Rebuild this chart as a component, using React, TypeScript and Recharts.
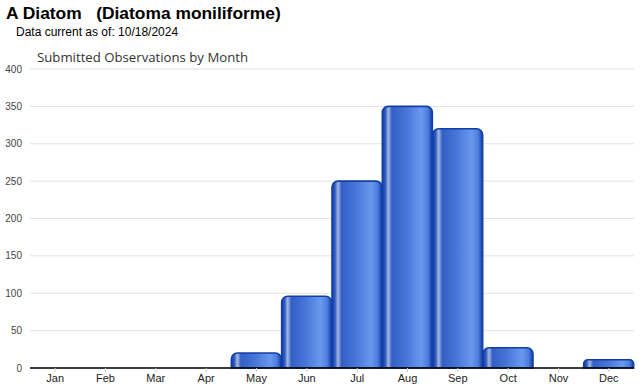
import { BarChart, Bar, XAxis, YAxis, CartesianGrid } from "recharts";

const months = ["Jan", "Feb", "Mar", "Apr", "May", "Jun", "Jul", "Aug", "Sep", "Oct", "Nov", "Dec"];
const observations = [0, 0, 0, 0, 20, 96, 250, 350, 320, 27, 0, 11];
const yTicks = [0, 50, 100, 150, 200, 250, 300, 350, 400];

const chartData = months.map((m, i) => ({ month: m, count: observations[i] }));

export default function App() {
  return (
    <div
      style={{
        position: "absolute",
        left: 0,
        top: 0,
        width: 640,
        height: 390,
        background: "#fff",
        fontFamily: "'Liberation Sans', Arial, sans-serif",
      }}
    >
      <div style={{ position: "absolute", left: 6, top: 3, fontSize: 17.4, fontWeight: "bold", color: "#000", whiteSpace: "pre" }}>
        {"A Diatom   (Diatoma moniliforme)"}
      </div>
      <div style={{ position: "absolute", left: 16, top: 25, fontSize: 12, color: "#000" }}>
        Data current as of: 10/18/2024
      </div>
      <div
        style={{
          position: "absolute",
          left: 37,
          top: 48,
          fontSize: 13.2,
          color: "#333",
          fontFamily: "'Open Sans', sans-serif",
        }}
      >
        Submitted Observations by Month
      </div>
      <BarChart
        width={640}
        height={390}
        data={chartData}
        margin={{ top: 69, right: 6, left: 0, bottom: 0 }}
        barCategoryGap={0}
        style={{ position: "absolute", left: 0, top: 0 }}
      >
        <defs>
          <linearGradient id="barFill" x1="0" y1="0" x2="1" y2="0">
            <stop offset="0%" stopColor="#123fa6" />
            <stop offset="6%" stopColor="#2f5cc2" />
            <stop offset="12%" stopColor="#a6b8e2" />
            <stop offset="19%" stopColor="#3460c6" />
            <stop offset="45%" stopColor="#4573d6" />
            <stop offset="78%" stopColor="#6a98ee" />
            <stop offset="91%" stopColor="#4d7ede" />
            <stop offset="100%" stopColor="#123fa6" />
          </linearGradient>
        </defs>
        <CartesianGrid vertical={false} stroke="#e2e2e2" strokeWidth={1} />
        <XAxis
          dataKey="month"
          height={22}
          tickLine={{ stroke: "#cccccc" }}
          tickSize={4}
          axisLine={{ stroke: "#000", strokeWidth: 1.5 }}
          tick={{ fill: "#222", fontSize: 11 }}
          tickMargin={2}
        />
        <YAxis
          width={30}
          domain={[0, 400]}
          ticks={yTicks}
          interval={0}
          tickLine={false}
          axisLine={false}
          tickSize={0}
          tickMargin={8}
          tick={{ fill: "#444", fontSize: 10 }}
        />
        <Bar
          dataKey="count"
          fill="url(#barFill)"
          stroke="#123fa6"
          strokeWidth={1.6}
          radius={[6, 6, 0, 0]}
          isAnimationActive={false}
        />
      </BarChart>
    </div>
  );
}
